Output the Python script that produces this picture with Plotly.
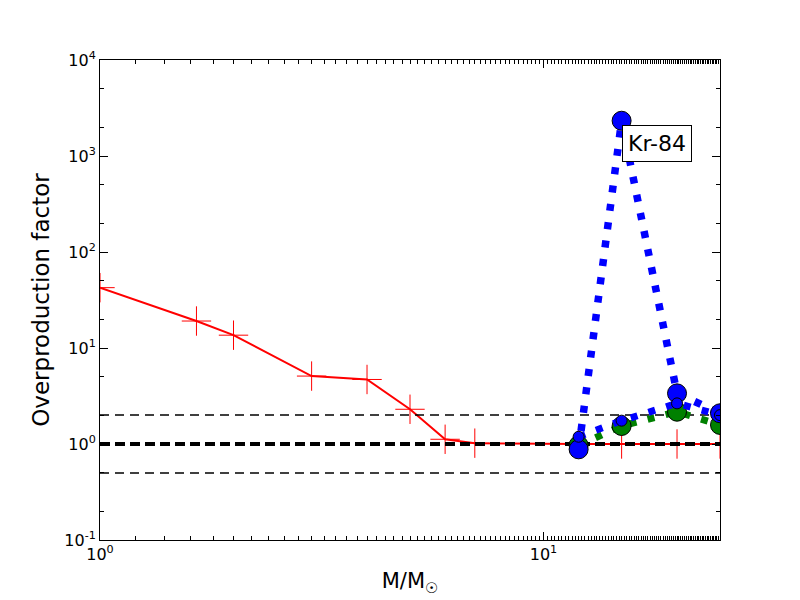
import math
import plotly.graph_objects as go

# Red series (overproduction vs mass)
red_x = [1, 1.65, 2, 3, 4, 5, 6, 7, 12, 15, 20, 25]
red_y = [42.5, 19.1, 13.6, 5.1, 4.7, 2.3, 1.12, 1.02, 1.0, 1.0, 1.0, 1.0]

# Massive star series
mass_x = [12, 15, 20, 25]
blue_big_y = [0.88, 2330, 3.37, 2.09]
blue_small_y = [1.19, 1.75, 2.65, 2.0]
green_y = [0.97, 1.54, 2.17, 1.58]

# Reference lines
ref_x = [1, 25]
ref_thin = [2.0, 0.5]
ref_thick = 1.0

# Tick labels
x_tickvals = [1, 10]
x_ticktext = ["10<sup>0</sup>", "10<sup>1</sup>"]
y_tickvals = [0.1, 1, 10, 100, 1000, 10000]
y_ticktext = ["10<sup>-1</sup>", "10<sup>0</sup>", "10<sup>1</sup>",
              "10<sup>2</sup>", "10<sup>3</sup>", "10<sup>4</sup>"]

label_text = "Kr-84"
label_x = 15
label_y = 2330

font = "DejaVu Sans"
fig = go.Figure()

fig.add_trace(go.Scatter(
    x=red_x, y=red_y, mode="lines+markers",
    line=dict(color="red", width=2),
    marker=dict(symbol="cross-thin-open", size=21, line=dict(color="red", width=1)),
    showlegend=False))

for v in ref_thin:
    fig.add_trace(go.Scatter(x=ref_x, y=[v, v], mode="lines",
                             line=dict(color="black", width=1.5, dash="9px,6px"),
                             showlegend=False))
fig.add_trace(go.Scatter(x=ref_x, y=[ref_thick, ref_thick], mode="lines",
                         line=dict(color="black", width=4, dash="10px,5px"),
                         showlegend=False))

dotted = "7px,11.5px"
fig.add_trace(go.Scatter(
    x=mass_x, y=green_y, mode="lines+markers",
    line=dict(color="green", width=7, dash=dotted),
    marker=dict(symbol="circle", size=19, color="green", line=dict(color="black", width=1)),
    showlegend=False))
fig.add_trace(go.Scatter(
    x=mass_x, y=blue_big_y, mode="lines+markers",
    line=dict(color="blue", width=7.5, dash=dotted),
    marker=dict(symbol="circle", size=19, color="blue", line=dict(color="black", width=1)),
    showlegend=False))
fig.add_trace(go.Scatter(
    x=mass_x, y=blue_small_y, mode="lines+markers",
    line=dict(color="blue", width=7, dash=dotted),
    marker=dict(symbol="circle", size=11, color="blue", line=dict(color="black", width=1)),
    showlegend=False))

fig.add_annotation(
    x=math.log10(label_x), y=math.log10(label_y), xref="x", yref="y", text=label_text,
    showarrow=False, xanchor="left", yanchor="top", yshift=-4,
    font=dict(family=font, size=22, color="black"),
    bgcolor="white", bordercolor="black", borderwidth=1, borderpad=5)

axis_common = dict(
    type="log", showgrid=False, zeroline=False, automargin=False,
    showline=True, linecolor="black", linewidth=1, mirror="ticks",
    ticks="inside", ticklen=8, tickcolor="black",
    minor=dict(ticks="inside", ticklen=4, tickcolor="black"),
    tickfont=dict(family=font, size=16, color="black"),
)

fig.update_xaxes(**axis_common, range=[0, math.log10(25)],
                 tickvals=x_tickvals, ticktext=x_ticktext,
                 title=dict(text="M/M<sub>☉</sub>", standoff=10,
                            font=dict(family=font, size=21, color="black")))
fig.update_yaxes(**axis_common, range=[-1, 4],
                 tickvals=y_tickvals, ticktext=y_ticktext,
                 title=dict(text="Overproduction factor", standoff=8,
                            font=dict(family=font, size=23, color="black")))

fig.update_layout(
    width=800, height=600,
    margin=dict(l=92, r=88, t=52, b=68, autoexpand=False),
    plot_bgcolor="white", paper_bgcolor="white",
    font=dict(family=font, color="black"),
)

fig.write_html("out.html")
